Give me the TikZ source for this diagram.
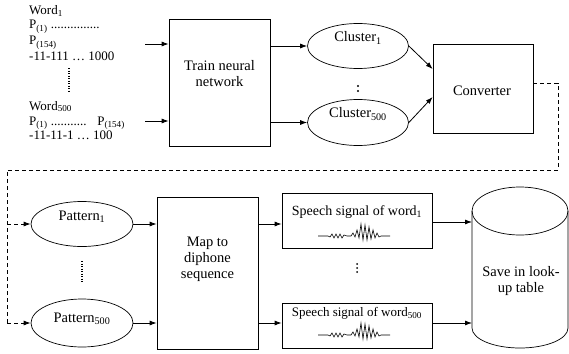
\documentclass[tikz,border=0pt]{standalone}
\usepackage{fontspec}
\setmainfont{Liberation Serif}
\newfontfamily\tnr{Liberation Serif}
\usetikzlibrary{shapes.geometric,arrows.meta,calc}
\begin{document}
\begin{tikzpicture}[x=1pt,y=-1pt,
  every node/.style={font=\tnr\fontsize{14.5}{16}\selectfont},
  txt/.style={inner sep=0pt},
  lefttxt/.style={inner sep=0pt,anchor=base west,font=\tnr\fontsize{13}{15}\selectfont},
  box/.style={draw,line width=0.7pt,inner sep=0pt},
  oval/.style={draw,ellipse,line width=0.7pt,inner sep=0pt,minimum width=101pt},
  arr/.style={-{Latex[length=7pt,width=5pt]},line width=0.8pt},
  dsh/.style={dash pattern=on 4pt off 3pt,line width=0.8pt},
  dotline/.style={line width=1.3pt,dash pattern=on 1.3pt off 1.2pt},
  wave/.pic={\draw[line width=0.6pt] (0,0) -- (10,0) -- (12,1) -- (14,-2) -- (16,2) -- (18,-2) -- (20,2) -- (22,-2) -- (24,2) -- (26,-1) -- (29,0) -- (33,0) -- (35,-3) -- (37,1) -- (39,-6) -- (41,2) -- (43,-12) -- (45,4) -- (47,-11) -- (49,4) -- (51,-9) -- (53,3) -- (55,-6) -- (57,2) -- (59,-3) -- (61,1) -- (63,0) -- (72,0);}]
\useasboundingbox (0,0) rectangle (569,353);

% left text block
\node[lefttxt] (w1) at (29,15) {Word\textsubscript{1}};
\node[lefttxt] (w1p) at (29,29) {P\textsubscript{(1)} ...............};
\node[lefttxt] (w1q) at (29,45) {P\textsubscript{(154)}};
\node[lefttxt] (w1b) at (29,60) {-11-111 … 1000};
\node[lefttxt] (w5) at (29,110) {Word\textsubscript{500}};
\node[lefttxt] (w5p) at (29,125) {P\textsubscript{(1)} ........... \ \ P\textsubscript{(154)}};
\node[lefttxt] (w5b) at (29,139) {-11-11-1 … 100};
\draw[dotline] (69,68) -- (69,92);

% train box
\node[box,minimum width=101pt,minimum height=127pt] (train) at (219.5,82.5) {};
\node[txt,align=center] (traint) at (219.5,74) {Train neural\\network};
\coordinate (a1) at (145,44);
\coordinate (a2) at (145,121);
\draw[arr] (a1) -- (a1 -| train.west);
\draw[arr] (a2) -- (a2 -| train.west);

% clusters
\node[oval,minimum height=45pt] (cl1) at (358,46) {};
\node[txt] (cl1t) at (358,38) {Cluster\textsubscript{1}};
\node[oval,minimum height=46pt] (cl2) at (358,122.5) {};
\node[txt] (cl2t) at (358,114) {Cluster\textsubscript{500}};
\fill (358,86) circle (1.1pt) (358,91) circle (1.1pt);
\draw[arr] (train.east |- cl1) -- (cl1.west);
\draw[arr] (train.east |- cl2) -- (cl2.west);

% converter
\node[box,minimum width=100pt,minimum height=89pt] (conv) at (483,88.5) {};
\node[txt] (convt) at (482,91) {Converter};
\draw[arr] (cl1.east) -- ($(conv.west)+(0,-19.5)$);
\draw[arr] (cl2.east) -- ($(conv.west)+(0,8.5)$);

% dashed feedback
\coordinate (dA) at (558,170);
\coordinate (dB) at (7,170);

% patterns
\node[oval,minimum width=102pt,minimum height=45pt] (p1) at (82,224) {};
\node[txt] (p1t) at (82,217) {Pattern\textsubscript{1}};
\node[oval,minimum width=102pt,minimum height=48pt] (p2) at (82,323) {};
\node[txt] (p2t) at (82,319) {Pattern\textsubscript{500}};
\draw[dotline] (82,261) -- (82,283);

\draw[dsh] ($(conv.east)+(0,-5.5)$) -| (dA) -- (dB) -- (dB |- p2);
\draw[dsh,arr] (dB |- p1) -- (p1.west);
\draw[dsh,arr] (dB |- p2) -- (p2.west);

% map box
\node[box,minimum width=101pt,minimum height=152pt] (map) at (207.5,273) {};
\node[txt,align=center] (mapt) at (207.5,259) {Map to\\diphone\\sequence};
\draw[arr] (p1.east) -- (p1.east -| map.west);
\draw[arr] (p2.east) -- (p2.east -| map.west);

% speech boxes
\node[box,minimum width=150pt,minimum height=55pt] (s1) at (357,220.5) {};
\node[txt,font=\tnr\fontsize{14}{16}\selectfont] (s1t) at (357,212) {Speech signal of word\textsubscript{1}};
\pic at (318,236) {wave};
\node[box,minimum width=150pt,minimum height=45pt] (s2) at (357,325.5) {};
\node[txt,font=\tnr\fontsize{13}{15}\selectfont] (s2t) at (357,313) {Speech signal of word\textsubscript{500}};
\pic at (318,335) {wave};
\fill (357,264) circle (1pt) (357,268) circle (1pt) (357,272) circle (1pt);
\draw[arr] (map.east |- p1) -- (s1.west |- p1);
\draw[arr] (map.east |- p2) -- (s2.west |- p2);

% cylinder
\coordinate (cylL) at (472,211);
\draw[line width=0.7pt] (520,211) ellipse [x radius=48pt, y radius=24pt];
\draw[line width=0.7pt] (472,211) -- (472,328) arc[start angle=180, end angle=360, x radius=48pt, y radius=20pt] -- (568,211);
\node[txt,align=center,font=\tnr\fontsize{14.5}{16.5}\selectfont] (cylt) at (521,281) {Save in look-\\up table};
\draw[arr] (s1.east |- 0,222) -- (cylL |- 0,222);
\draw[arr] (s2.east |- 0,323) -- (cylL |- 0,323);
\end{tikzpicture}
\end{document}
